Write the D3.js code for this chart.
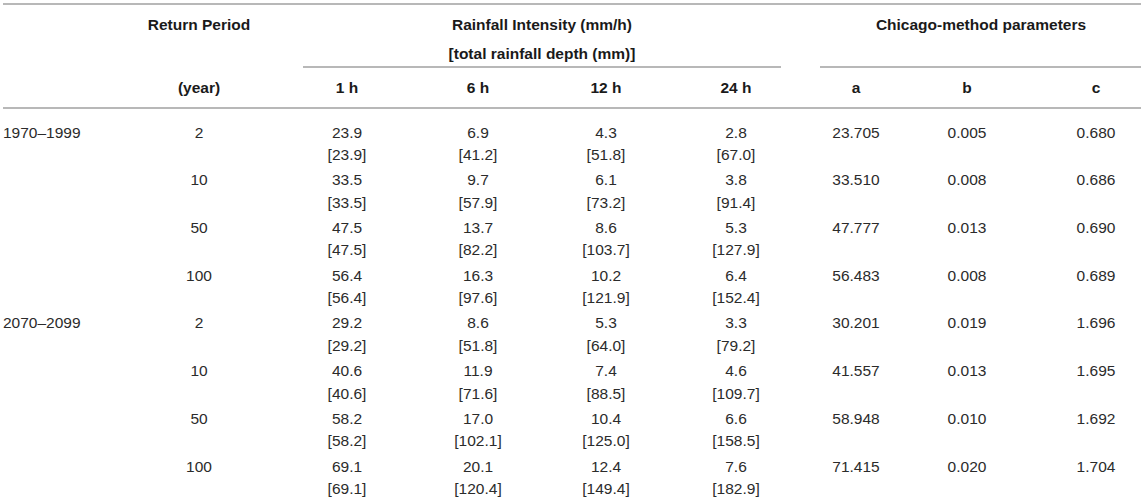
<!DOCTYPE html>
<html lang="en">
<head>
<meta charset="UTF-8">
<script src="https://d3js.org/d3.v7.min.js"></script>
<title>Rainfall intensity table</title>
<style>
    body { margin: 0; background: #fff; }
    text { font-family: "Liberation Sans", Arial, sans-serif; font-size: 15.5px; fill: #2b2b2b; }
    .head { font-weight: bold; fill: #1a1a1a; }
    .rule { stroke: #b8b8b8; stroke-width: 1.6; shape-rendering: crispEdges; }
</style>
</head>
<body>
<script>
    // table values
    var periods = ["1970–1999", "2070–2099"]
    var returnYears = [2, 10, 50, 100]
    var durations = ["1 h", "6 h", "12 h", "24 h"]
    var paramNames = ["a", "b", "c"]

    var intensity1h = [23.9, 33.5, 47.5, 56.4, 29.2, 40.6, 58.2, 69.1]
    var depth1h = [23.9, 33.5, 47.5, 56.4, 29.2, 40.6, 58.2, 69.1]
    var intensity6h = [6.9, 9.7, 13.7, 16.3, 8.6, 11.9, 17.0, 20.1]
    var depth6h = [41.2, 57.9, 82.2, 97.6, 51.8, 71.6, 102.1, 120.4]
    var intensity12h = [4.3, 6.1, 8.6, 10.2, 5.3, 7.4, 10.4, 12.4]
    var depth12h = [51.8, 73.2, 103.7, 121.9, 64.0, 88.5, 125.0, 149.4]
    var intensity24h = [2.8, 3.8, 5.3, 6.4, 3.3, 4.6, 6.6, 7.6]
    var depth24h = [67.0, 91.4, 127.9, 152.4, 79.2, 109.7, 158.5, 182.9]
    var paramA = [23.705, 33.510, 47.777, 56.483, 30.201, 41.557, 58.948, 71.415]
    var paramB = [0.005, 0.008, 0.013, 0.008, 0.019, 0.013, 0.010, 0.020]
    var paramC = [0.680, 0.686, 0.690, 0.689, 1.696, 1.695, 1.692, 1.704]

    var width = 1145
    var height = 498

    var svg = d3.select("body").append("svg")
        .attr("width", width)
        .attr("height", height)

    // column centres (columns are not evenly spaced)
    var colKeys = ["year"].concat(durations, paramNames)
    var xCol = d3.scaleOrdinal()
        .domain(colKeys)
        .range([199, 347, 478, 606, 736, 856, 967, 1096])

    // one row per return period, 8 rows
    var nRows = periods.length * returnYears.length
    var yRow = d3.scaleLinear()
        .domain([0, nRows - 1])
        .range([132, 466])
    var subLine = 22.5

    var f1 = d3.format(".1f")
    var f3 = d3.format(".3f")

    // horizontal rules
    var rules = [
        { x1: 3, x2: 1141, y: 4 },
        { x1: 303, x2: 781, y: 67 },
        { x1: 820, x2: 1141, y: 67 },
        { x1: 3, x2: 1141, y: 108 }
    ]
    svg.selectAll("line.rule")
        .data(rules)
        .enter()
        .append("line")
        .attr("class", "rule")
        .attr("x1", function (d) { return d.x1 })
        .attr("x2", function (d) { return d.x2 })
        .attr("y1", function (d) { return d.y })
        .attr("y2", function (d) { return d.y })

    // header
    var head = svg.append("g")
    function headText(x, y, t) {
        head.append("text")
            .attr("class", "head")
            .attr("x", x)
            .attr("y", y)
            .attr("text-anchor", "middle")
            .attr("dominant-baseline", "central")
            .text(t)
    }
    headText(199, 24, "Return Period")
    headText(542, 24, "Rainfall Intensity (mm/h)")
    headText(542, 53, "[total rainfall depth (mm)]")
    headText(981, 24, "Chicago-method parameters")
    headText(xCol("year"), 87, "(year)")
    durations.forEach(function (d) { headText(xCol(d), 87, d) })
    paramNames.forEach(function (d) { headText(xCol(d), 87, d) })

    // body
    var rows = d3.range(nRows).map(function (i) {
        return {
            i: i,
            period: i % returnYears.length === 0 ? periods[i / returnYears.length] : "",
            year: returnYears[i % returnYears.length],
            cells: [
                { key: "1 h", v: intensity1h[i], d: depth1h[i] },
                { key: "6 h", v: intensity6h[i], d: depth6h[i] },
                { key: "12 h", v: intensity12h[i], d: depth12h[i] },
                { key: "24 h", v: intensity24h[i], d: depth24h[i] }
            ],
            params: [
                { key: "a", v: paramA[i] },
                { key: "b", v: paramB[i] },
                { key: "c", v: paramC[i] }
            ]
        }
    })

    var rowG = svg.selectAll("g.row")
        .data(rows)
        .enter()
        .append("g")
        .attr("class", "row")
        .attr("transform", function (d) { return "translate(0," + yRow(d.i) + ")" })

    rowG.append("text")
        .attr("x", 3)
        .attr("dominant-baseline", "central")
        .text(function (d) { return d.period })

    rowG.append("text")
        .attr("x", xCol("year"))
        .attr("text-anchor", "middle")
        .attr("dominant-baseline", "central")
        .text(function (d) { return d.year })

    var cell = rowG.selectAll("g.cell")
        .data(function (d) { return d.cells })
        .enter()
        .append("g")
        .attr("class", "cell")
    cell.append("text")
        .attr("x", function (d) { return xCol(d.key) })
        .attr("text-anchor", "middle")
        .attr("dominant-baseline", "central")
        .text(function (d) { return f1(d.v) })
    cell.append("text")
        .attr("x", function (d) { return xCol(d.key) })
        .attr("y", subLine)
        .attr("text-anchor", "middle")
        .attr("dominant-baseline", "central")
        .text(function (d) { return "[" + f1(d.d) + "]" })

    rowG.selectAll("text.param")
        .data(function (d) { return d.params })
        .enter()
        .append("text")
        .attr("class", "param")
        .attr("x", function (d) { return xCol(d.key) })
        .attr("text-anchor", "middle")
        .attr("dominant-baseline", "central")
        .text(function (d) { return f3(d.v) })
</script>
</body>
</html>
